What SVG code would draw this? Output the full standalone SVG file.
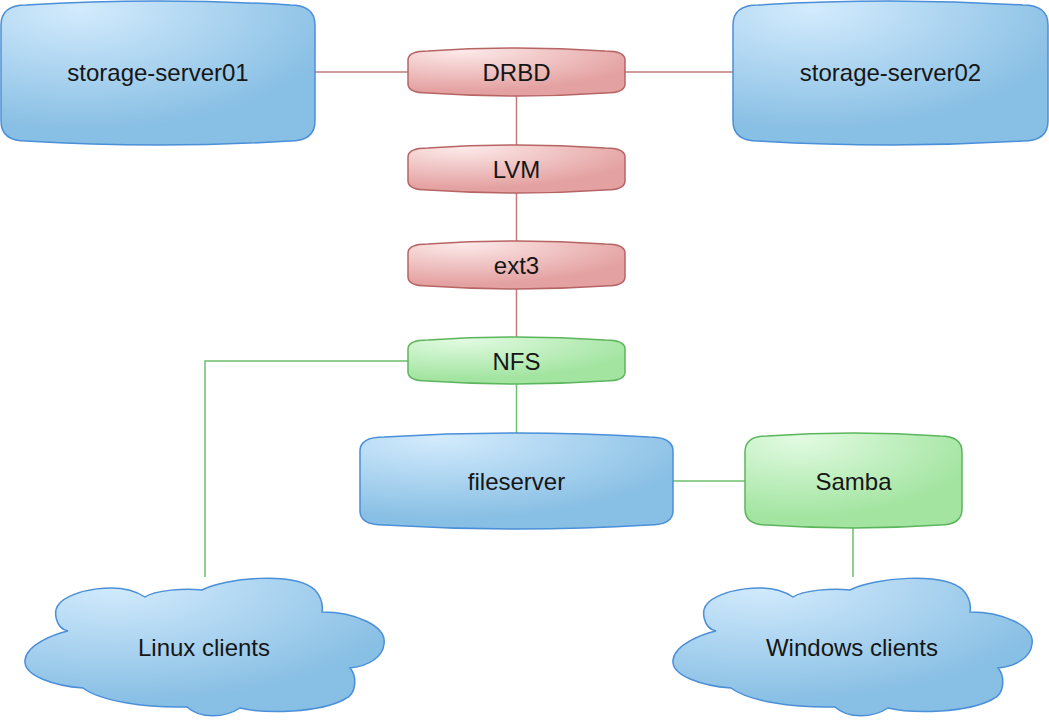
<svg xmlns="http://www.w3.org/2000/svg" width="1049" height="720" viewBox="0 0 1049 720">
<defs>
<radialGradient id="gBlue" cx="0.25" cy="0.05" r="0.85">
<stop offset="0" stop-color="#d3ebfd"/>
<stop offset="1" stop-color="#88bfe4"/>
</radialGradient>
<radialGradient id="gRed" cx="0.25" cy="0.05" r="0.85">
<stop offset="0" stop-color="#fdeaea"/>
<stop offset="1" stop-color="#e4a1a1"/>
</radialGradient>
<radialGradient id="gGreen" cx="0.25" cy="0.05" r="0.85">
<stop offset="0" stop-color="#e2fbe2"/>
<stop offset="1" stop-color="#a2e4a0"/>
</radialGradient>
<path id="cloud" d="M43,55 C30,52 28,35 34,28 C45,14 95,4 120,21 C130,14 160,12 177,14 C200,2 270,-5 290,14 C297,22 298,30 297,36 C330,36 362,50 359,68 C358,80 345,90 325,92 C332,100 332,118 320,123 C295,137 240,138 215,132 C200,142 175,143 162,131 C120,132 75,125 58,112 C30,110 -2,100 0,84 C2,68 30,58 43,55 Z"/>
</defs>
<style>
.blue{fill:url(#gBlue);stroke:#4a8fd8;stroke-width:1.5}
.red{fill:url(#gRed);stroke:#b76464;stroke-width:1.5}
.green{fill:url(#gGreen);stroke:#5cb55c;stroke-width:1.5}
.lbl{font-family:"Liberation Sans",Arial,sans-serif;font-size:24px;fill:#161616;text-anchor:middle}
.cr{stroke:#c07a7a;stroke-width:1.5;fill:none}
.cg{stroke:#6cbf6c;stroke-width:1.5;fill:none}
</style>
<rect width="1049" height="720" fill="#ffffff"/>
<g id="connectors">
<path class="cr" d="M315,72 H408"/>
<path class="cr" d="M625,72 H733"/>
<path class="cr" d="M516.5,96 V145"/>
<path class="cr" d="M516.5,193 V241"/>
<path class="cr" d="M516.5,289 V337"/>
<path class="cg" d="M516.5,384 V433"/>
<path class="cg" d="M408,361 H205 V577"/>
<path class="cg" d="M673,481 H745"/>
<path class="cg" d="M853,528 V577"/>
</g>
<g id="storage-server01">
<path class="blue" d="M1,25 Q1,5 26,5 Q158,-3 290,5 Q315,5 315,25 L315,121 Q315,141 290,141 Q158,149 26,141 Q1,141 1,121 Z"/>
<text class="lbl" x="158" y="81">storage-server01</text>
</g>
<g id="storage-server02">
<path class="blue" d="M733,25 Q733,5 758,5 Q890.5,-3 1023,5 Q1048,5 1048,25 L1048,121 Q1048,141 1023,141 Q890.5,149 758,141 Q733,141 733,121 Z"/>
<text class="lbl" x="890.5" y="81">storage-server02</text>
</g>
<g id="drbd">
<path class="red" d="M408,60 Q408,51 428,51 Q516.5,45 605,51 Q625,51 625,60 L625,84 Q625,93 605,93 Q516.5,99 428,93 Q408,93 408,84 Z"/>
<text class="lbl" x="516.5" y="80.5">DRBD</text>
</g>
<g id="lvm">
<path class="red" d="M408,157 Q408,148 428,148 Q516.5,142 605,148 Q625,148 625,157 L625,181 Q625,190 605,190 Q516.5,196 428,190 Q408,190 408,181 Z"/>
<text class="lbl" x="516.5" y="177.5">LVM</text>
</g>
<g id="ext3">
<path class="red" d="M408,253 Q408,244 428,244 Q516.5,238 605,244 Q625,244 625,253 L625,277 Q625,286 605,286 Q516.5,292 428,286 Q408,286 408,277 Z"/>
<text class="lbl" x="516.5" y="273.5">ext3</text>
</g>
<g id="nfs">
<path class="green" d="M408,349 Q408,340 428,340 Q516.5,334 605,340 Q625,340 625,349 L625,372 Q625,381 605,381 Q516.5,387 428,381 Q408,381 408,372 Z"/>
<text class="lbl" x="516.5" y="369.5">NFS</text>
</g>
<g id="fileserver">
<path class="blue" d="M360,451 Q360,437 384,437 Q516.5,429 649,437 Q673,437 673,451 L673,511 Q673,525 649,525 Q516.5,533 384,525 Q360,525 360,511 Z"/>
<text class="lbl" x="516.5" y="489.5">fileserver</text>
</g>
<g id="samba">
<path class="green" d="M745,452 Q745,436 767,436 Q853.5,430 940,436 Q962,436 962,452 L962,509 Q962,525 940,525 Q853.5,531 767,525 Q745,525 745,509 Z"/>
<text class="lbl" x="853.5" y="489.5">Samba</text>
</g>
<g id="linux-clients">
<use href="#cloud" class="blue" transform="translate(25,576)"/>
<text class="lbl" x="204" y="656">Linux clients</text>
</g>
<g id="windows-clients">
<use href="#cloud" class="blue" transform="translate(673,576)"/>
<text class="lbl" x="852" y="656">Windows clients</text>
</g>
</svg>
